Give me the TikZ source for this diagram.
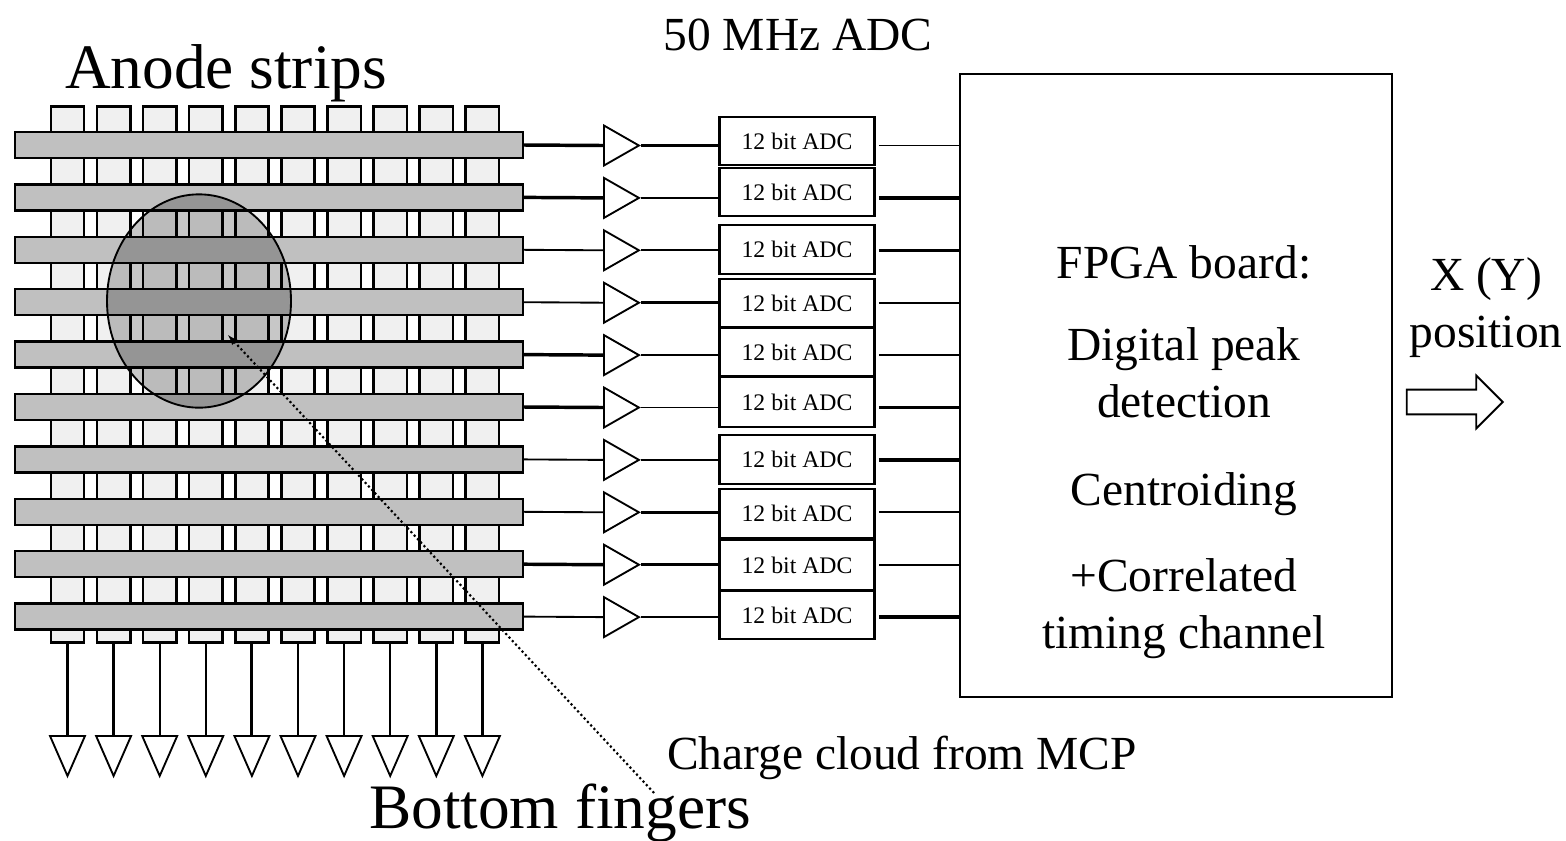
\documentclass[tikz,border=0pt]{standalone}
\usepackage{fontspec}
\setmainfont{Liberation Serif}
\usetikzlibrary{shapes.geometric,shapes.arrows}
\definecolor{stripgray}{HTML}{C0C0C0}
\definecolor{fingergray}{HTML}{F0F0F0}
\tikzset{
  finger/.style={draw,line width=1.9pt,fill=fingergray,minimum width=25pt,minimum height=402pt,inner sep=0},
  strip/.style={draw,line width=1.8pt,fill=stripgray,minimum width=381pt,minimum height=19.5pt,inner sep=0},
  adcbox/.style={draw,line width=1.9pt,minimum width=116pt,inner sep=0,font=\fontsize{17.8}{20}\selectfont},
  amp/.style={draw,line width=1.4pt,fill=white,isosceles triangle,isosceles triangle stretches,shape border rotate=0,minimum width=30pt,minimum height=26.25pt,inner sep=0},
  pad/.style={amp,shape border rotate=270,minimum width=26.25pt,minimum height=30pt},
  bigtext/.style={anchor=base,inner sep=0,font=\fontsize{47.5}{50}\selectfont},
  midtext/.style={anchor=base,inner sep=0,font=\fontsize{35.6}{40}\selectfont},
}
\begin{document}
\begin{tikzpicture}[x=.75pt,y=-.75pt]
\useasboundingbox (0,0) rectangle (1566,840);
% bottom fingers and their readout
\foreach \i/\w in {0/2.2,1/1.7,2/1.3,3/1.3,4/2.2,5/2.2,6/1.3,7/1.3,8/2.2,9/1.7}
 {\node[finger] (fing\i) at ({67.5+46.1*\i},374.5) {};
  \node[pad,anchor=lower side] (pad\i) at ({67.5+46.1*\i},735) {};
  \draw[line width=\w pt] (fing\i.south) -- (pad\i.lower side);
 };
% anode strips
\foreach \i in {0,...,9}
 \node[strip] (strip\i) at (269,{145+52.4*\i}) {};
\node[draw,line width=1.4pt,ellipse,fill=black,fill opacity=.22,minimum width=138pt,minimum height=160pt,inner sep=0] (cloud) at (199,301) {};
% FPGA
\node[draw,line width=1.9pt,minimum width=324pt,minimum height=467pt,inner sep=0] (fpga) at (1176,385.5) {};
% channels: number/top/bottom of ADC box/wire widths
\foreach \i/\yt/\yb/\wa/\wb/\wc in {0/117/165/2.6/2.6/1.4,1/168/216/2.6/1.4/2.6,2/225/274/1.4/1.4/2.6,3/279/327/1.4/2.6/1.4,4/328/376/2.6/1.4/1.4,5/377/427/2.6/1.4/2.6,6/435/484/1.4/1.4/2.6,7/489/538/1.4/2.6/1.4,8/540/590/2.6/2.6/1.4,9/591/639/1.4/1.4/2.6}
 {\node[amp,anchor=lower side] (amp\i) at (603,{145.5+52.4*\i}) {};
  \node[adcbox,minimum height={(\yb-\yt)*.75pt}] (adc\i) at (797,{(\yt+\yb)/2}) {12 bit ADC};
  \draw[line width=\wa pt] (strip\i.east) -- (amp\i.lower side);
  \draw[line width=\wb pt] (amp\i.apex) -- (amp\i.apex -| adc\i.west);
  \draw[line width=\wc pt,shorten <=2.5pt] (amp\i.lower side -| adc\i.east) -- (amp\i.lower side -| fpga.west);
 };
% labels
\node[bigtext] (anode) at (226,88) {Anode strips};
\node[bigtext] (bottom) at (560,828) {Bottom fingers};
\node[midtext] (adcrate) at (798,50) {50 MHz ADC};
\node[midtext] (charge) at (902,769) {Charge cloud from MCP};
\node[midtext] (board) at (1184,278) {FPGA board:};
\node[midtext] (peak) at (1184,360) {Digital peak};
\node[midtext] (detect) at (1184,417) {detection};
\node[midtext] (centroid) at (1184,505) {Centroiding};
\node[midtext] (correl) at (1184,591) {+Correlated};
\node[midtext] (timing) at (1184,648) {timing channel};
\node[midtext] (xy) at (1486,290) {X (Y)};
\node[midtext] (pos) at (1486,347) {position};
\node[draw,line width=1.4pt,single arrow,single arrow head extend=10.5pt,inner xsep=0,inner ysep=8.6pt,minimum height=72pt,anchor=tip] (out) at (1504,402) {};
% charge cloud pointer
\coordinate (ptrstart) at (654,793);
\coordinate (ptrend) at (228,335);
\draw[dotted,line width=1.6pt,-latex] (ptrstart) -- (ptrend);
\end{tikzpicture}
\end{document}
